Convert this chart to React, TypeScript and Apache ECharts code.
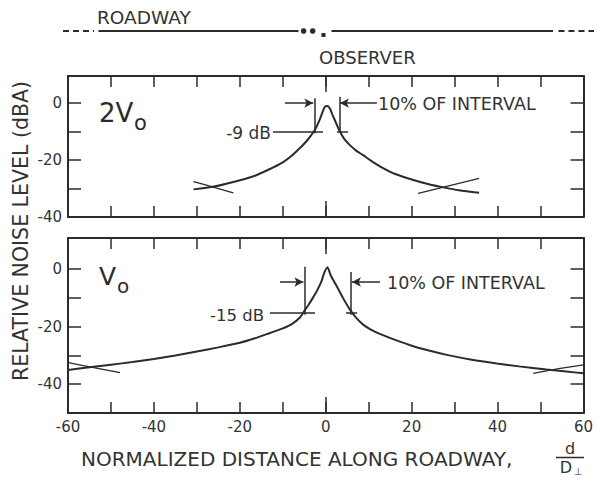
import { useEffect, useRef } from "react";
import * as echarts from "echarts";

// ---------- data ----------
// Upper panel (2Vo)
const topX = [-30.8, -26, -21.5, -17, -13.5, -10, -8, -6, -4.5, -3.5, -2.5, -1.5, -0.8, -0.2, 0.4, 1.0, 1.6, 2.4, 3.3, 4.3, 5.5, 7, 8.7, 10.5, 12.6, 16, 20.4, 24, 27.4, 31, 35.7];
const topY = [-30.3, -29.3, -27.7, -25.8, -23.5, -20.8, -18.6, -15.8, -13.4, -11.5, -9.4, -6.2, -3.4, -1.3, -1.0, -2.0, -4.2, -7.0, -10.0, -12.6, -14.6, -16.6, -18.3, -20.2, -22.2, -24.8, -27.0, -28.5, -29.6, -30.6, -31.5];
const topNeighborLX = [-30.8, -26.2, -21.5];
const topNeighborLY = [-27.6, -29.5, -31.5];
const topNeighborRX = [21.5, 27.4, 35.7];
const topNeighborRY = [-31.7, -29.5, -26.4];

// Lower panel (Vo)
const botX = [-60, -55, -50, -45, -40, -35, -30, -25, -20, -16, -13, -10, -8, -6, -5, -4, -3, -2, -1, -0.4, 0.4, 1.2, 2.5, 4, 5.6, 7, 8.7, 10.5, 12.6, 16, 20.4, 24, 28.2, 34, 39.8, 45, 51.4, 56, 60];
const botY = [-35.1, -34.1, -33.2, -32.3, -31.2, -30.0, -28.6, -27.2, -25.6, -23.8, -22.2, -20.6, -19.2, -16.8, -14.6, -12.4, -10.0, -7.4, -4.3, -1.5, 0.6, -2.3, -5.8, -10.0, -14.0, -16.8, -19.3, -21.0, -22.5, -24.5, -26.8, -28.3, -29.8, -31.5, -32.8, -33.8, -34.9, -35.6, -36.2];
const botNeighborLX = [-59.9, -54.9, -47.9];
const botNeighborLY = [-32.5, -34.0, -36.0];
const botNeighborRX = [48.3, 53, 60];
const botNeighborRY = [-36.2, -34.9, -33.3];

// Axis ticks / labels
const xTickLabels = [-60, -40, -20, 0, 20, 40, 60];
const yTickLabels = [0, -20, -40];
const yTicksBottom = [-40, -30, -20, -10, 0];

// Annotations (data coordinates)
const topIntervalLeft = -2.67;
const topIntervalRight = 3.15;
const topLevel = -10; // "-9 dB" below peak
const botIntervalLeft = -5.0;
const botIntervalRight = 5.76;
const botLevel = -15;

const INK = "#2b2b2b";
const FONT = "DejaVu Sans";

const pair = (xs: number[], ys: number[]) => xs.map((x, i) => [x, ys[i]]);

export default function App() {
  const ref = useRef<HTMLDivElement>(null);

  useEffect(() => {
    if (!ref.current) return;
    const chart = echarts.init(ref.current, undefined, { renderer: "svg" });

    const axisLine = { show: true, onZero: false, lineStyle: { color: INK, width: 2 } };

    const mkX = (gridIndex: number, position: "top" | "bottom", labels: boolean) => ({
      type: "value",
      gridIndex,
      position,
      min: -60,
      max: 60,
      interval: 10,
      axisLine,
      axisTick: { show: true, inside: true, length: 11, lineStyle: { color: INK, width: 1.5 } },
      splitLine: { show: false },
      axisLabel: labels
        ? {
            show: true,
            margin: 6,
            color: "#333",
            fontFamily: FONT,
            fontSize: 15,
            customValues: xTickLabels,
            formatter: (v: number) => (xTickLabels.includes(v) ? String(v) : ""),
          }
        : { show: false },
    });

    const mkY = (gridIndex: number, position: "left" | "right", labels: boolean, min: number, max: number, customTicks?: number[]) => ({
      type: "value",
      gridIndex,
      position,
      min,
      max,
      interval: 10,
      axisLine,
      axisTick: {
        show: true,
        inside: true,
        length: 13,
        lineStyle: { color: INK, width: 1.5 },
        ...(customTicks ? { customValues: customTicks } : {}),
      },
      splitLine: { show: false },
      axisLabel: labels
        ? {
            show: true,
            margin: 6,
            color: "#333",
            fontFamily: FONT,
            fontSize: 15,
            customValues: yTickLabels,
            formatter: (v: number) => (yTickLabels.includes(v) ? String(v) : ""),
          }
        : { show: false },
    });

    const seg = (x1: number, y1: number, x2: number, y2: number, arrowEnd = false) => [
      { coord: [x1, y1], symbol: "none" },
      { coord: [x2, y2], symbol: arrowEnd ? "arrow" : "none", symbolSize: [7, 9] },
    ];

    const markLineBase = {
      silent: true,
      symbol: ["none", "none"],
      label: { show: false },
      lineStyle: { color: INK, width: 1.5, type: "solid" },
      emphasis: { disabled: true },
      animation: false,
    };

    const curveStyle = { color: INK, width: 2 };
    const thinStyle = { color: INK, width: 1.3 };

    const option: any = {
      animation: false,
      backgroundColor: "#ffffff",
      textStyle: { fontFamily: FONT },
      grid: [
        { left: 68, right: 13.5, top: 76, height: 141 },
        { left: 68, right: 13.5, top: 238, height: 175 },
      ],
      xAxis: [mkX(0, "bottom", false), mkX(0, "top", false), mkX(1, "bottom", true), mkX(1, "top", false)],
      yAxis: [
        mkY(0, "left", true, -40, 9.5),
        mkY(0, "right", false, -40, 9.5),
        mkY(1, "left", true, -50, 10.8, yTicksBottom),
        mkY(1, "right", false, -50, 10.8, yTicksBottom),
      ],
      series: [
        {
          type: "line",
          xAxisIndex: 0,
          yAxisIndex: 0,
          data: pair(topX, topY),
          showSymbol: false,
          smooth: 0.25,
          lineStyle: curveStyle,
          silent: true,
          markLine: {
            ...markLineBase,
            data: [
              seg(topIntervalLeft, 1.7, topIntervalLeft, -10.6),
              seg(topIntervalRight, 2.2, topIntervalRight, -10.2),
              seg(-9.5, 0, -2.9, 0, true),
              seg(11.9, 0, 3.3, 0, true),
              seg(-12.3, topLevel, -0.64, topLevel),
              seg(2.6, topLevel, 5.2, topLevel),
              seg(0, -40, 0, -34.4),
              seg(0, 9.5, 0, 3.9),
            ],
          },
        },
        { type: "line", xAxisIndex: 0, yAxisIndex: 0, data: pair(topNeighborLX, topNeighborLY), showSymbol: false, smooth: 0.3, lineStyle: thinStyle, silent: true },
        { type: "line", xAxisIndex: 0, yAxisIndex: 0, data: pair(topNeighborRX, topNeighborRY), showSymbol: false, smooth: 0.3, lineStyle: thinStyle, silent: true },
        {
          type: "line",
          xAxisIndex: 2,
          yAxisIndex: 2,
          data: pair(botX, botY),
          showSymbol: false,
          smooth: 0.2,
          lineStyle: curveStyle,
          silent: true,
          markLine: {
            ...markLineBase,
            data: [
              seg(botIntervalLeft, 0.8, botIntervalLeft, -15.9),
              seg(botIntervalRight, -1, botIntervalRight, -15.9),
              seg(-10.65, -4.5, -5.2, -4.5, true),
              seg(12.63, -4.5, 6.1, -4.5, true),
              seg(-13.0, botLevel, -2.5, botLevel),
              seg(4.7, botLevel, 7.3, botLevel),
              seg(0, -50, 0, -44.4),
              seg(0, 10.8, 0, 5.2),
            ],
          },
        },
        { type: "line", xAxisIndex: 2, yAxisIndex: 2, data: pair(botNeighborLX, botNeighborLY), showSymbol: false, smooth: 0.3, lineStyle: thinStyle, silent: true },
        { type: "line", xAxisIndex: 2, yAxisIndex: 2, data: pair(botNeighborRX, botNeighborRY), showSymbol: false, smooth: 0.3, lineStyle: thinStyle, silent: true },
      ],
      graphic: [
        // roadway schematic
        { type: "line", silent: true, shape: { x1: 63, y1: 31, x2: 94, y2: 31 }, style: { stroke: INK, lineWidth: 2, lineDash: [6, 4] } },
        { type: "line", silent: true, shape: { x1: 98.5, y1: 31, x2: 298.5, y2: 31 }, style: { stroke: INK, lineWidth: 2 } },
        { type: "circle", silent: true, shape: { cx: 303.6, cy: 31, r: 2.8 }, style: { fill: INK } },
        { type: "circle", silent: true, shape: { cx: 312.7, cy: 31, r: 2.8 }, style: { fill: INK } },
        { type: "rect", silent: true, shape: { x: 321.5, y: 33, width: 4, height: 4 }, style: { fill: INK } },
        { type: "line", silent: true, shape: { x1: 331.5, y1: 31, x2: 553, y2: 31 }, style: { stroke: INK, lineWidth: 2 } },
        { type: "line", silent: true, shape: { x1: 558.5, y1: 31, x2: 594, y2: 31 }, style: { stroke: INK, lineWidth: 2, lineDash: [6, 4] } },
        { type: "text", silent: true, x: 97, y: 17, style: { text: "ROADWAY", fill: "#333", fontFamily: FONT, fontSize: 18.5, align: "left", verticalAlign: "middle" } },
        { type: "text", silent: true, x: 319, y: 57, style: { text: "OBSERVER", fill: "#333", fontFamily: FONT, fontSize: 18, align: "left", verticalAlign: "middle" } },
        // panel labels
        { type: "text", silent: true, x: 99, y: 112.5, style: { text: "2V", fill: INK, fontFamily: FONT, fontSize: 26, align: "left", verticalAlign: "middle" } },
        { type: "text", silent: true, x: 134, y: 123, style: { text: "o", fill: INK, fontFamily: FONT, fontSize: 21, align: "left", verticalAlign: "middle" } },
        { type: "text", silent: true, x: 99, y: 276.5, style: { text: "V", fill: INK, fontFamily: FONT, fontSize: 25, align: "left", verticalAlign: "middle" } },
        { type: "text", silent: true, x: 117, y: 286, style: { text: "o", fill: INK, fontFamily: FONT, fontSize: 20, align: "left", verticalAlign: "middle" } },
        // annotation texts
        { type: "text", silent: true, x: 378, y: 103.5, style: { text: "10% OF INTERVAL", fill: "#333", fontFamily: FONT, fontSize: 17.5, align: "left", verticalAlign: "middle" } },
        { type: "text", silent: true, x: 271, y: 133, style: { text: "-9 dB", fill: "#333", fontFamily: FONT, fontSize: 17, align: "right", verticalAlign: "middle" } },
        { type: "text", silent: true, x: 387, y: 283, style: { text: "10% OF INTERVAL", fill: "#333", fontFamily: FONT, fontSize: 17.5, align: "left", verticalAlign: "middle" } },
        { type: "text", silent: true, x: 264, y: 315, style: { text: "-15 dB", fill: "#333", fontFamily: FONT, fontSize: 16.5, align: "right", verticalAlign: "middle" } },
        // axis titles
        { type: "text", silent: true, x: 21, y: 231, rotation: Math.PI / 2, style: { text: "RELATIVE NOISE LEVEL (dBA)", fill: "#333", fontFamily: FONT, fontSize: 20.5, align: "center", verticalAlign: "middle" } },
        { type: "text", silent: true, x: 81, y: 459, style: { text: "NORMALIZED DISTANCE ALONG ROADWAY,", fill: "#333", fontFamily: FONT, fontSize: 20, align: "left", verticalAlign: "middle" } },
        { type: "text", silent: true, x: 570, y: 448, style: { text: "d", fill: "#333", fontFamily: FONT, fontSize: 16, align: "center", verticalAlign: "middle" } },
        { type: "line", silent: true, shape: { x1: 556, y1: 457.5, x2: 584, y2: 457.5 }, style: { stroke: INK, lineWidth: 1.5 } },
        { type: "text", silent: true, x: 566, y: 467, style: { text: "D", fill: "#333", fontFamily: FONT, fontSize: 16, align: "center", verticalAlign: "middle" } },
        { type: "text", silent: true, x: 578, y: 471, style: { text: "⊥", fill: "#333", fontFamily: FONT, fontSize: 10, align: "center", verticalAlign: "middle" } },
      ],
    };

    chart.setOption(option);
    return () => chart.dispose();
  }, []);

  return <div ref={ref} style={{ position: "fixed", left: 0, top: 0, width: 597, height: 478, background: "#fff" }} />;
}
